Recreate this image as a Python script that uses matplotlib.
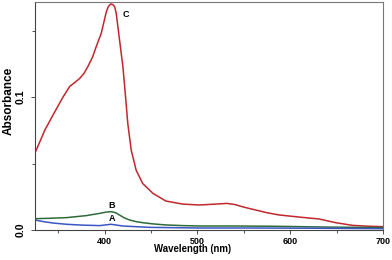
import matplotlib
matplotlib.use("Agg")
from matplotlib import pyplot as plt
from matplotlib.ticker import MultipleLocator

# curve C (red)
wl_c = [325, 330, 335.5, 344.4, 355.2, 362.4, 368, 373.1, 378, 382, 387, 391, 396.4, 401.8, 404,
        406.5, 409, 410.8, 412.5, 414.3, 417, 419.7, 422.6, 425, 428.7, 434, 441, 452, 466, 484,
        502, 520, 532, 540, 550, 559.5, 575, 588, 613, 631, 649, 667, 685, 700]
abs_c = [0.058, 0.066, 0.075, 0.0865, 0.100, 0.108, 0.111, 0.114, 0.118, 0.123, 0.130, 0.138, 0.148, 0.164, 0.168,
         0.170, 0.1695, 0.168, 0.163, 0.153, 0.138, 0.123, 0.100, 0.080, 0.060, 0.045, 0.035, 0.0276, 0.0218, 0.0195,
         0.0188, 0.0195, 0.0200, 0.0192, 0.0172, 0.0156, 0.013, 0.0113, 0.0095, 0.0083, 0.0055, 0.0035, 0.0028, 0.0025]

# curve B (green)
wl_b = [325, 340, 359, 380, 394.6, 401, 407, 412, 416, 421, 427, 434, 441, 452, 466, 484, 502, 540, 583, 640, 700]
abs_b = [0.0085, 0.0088, 0.0093, 0.0108, 0.0125, 0.0134, 0.0138, 0.0130, 0.0113, 0.0092, 0.0075, 0.0063, 0.0055,
         0.0046, 0.0038, 0.0033, 0.003, 0.003, 0.0028, 0.0022, 0.0018]

# curve A (blue)
wl_a = [325, 335, 345, 359, 375, 394.6, 407, 419.7, 448, 502, 560, 635, 700]
abs_a = [0.0075, 0.0062, 0.0052, 0.0043, 0.0037, 0.0033, 0.0043, 0.003, 0.002, 0.0015, 0.0015, 0.0013, 0.001]

plt.rcParams['font.family'] = ['Liberation Sans', 'DejaVu Sans']
plt.rcParams['font.weight'] = 'bold'

fig = plt.figure(figsize=(3.92, 2.6), dpi=100)
ax = fig.add_axes([35/392, 30/260, 348/392, 228/260])

ax.plot(wl_c, abs_c, color='#c0282d', linewidth=1.1)
ax.plot(wl_b, abs_b, color='#2e6b3a', linewidth=1.1)
ax.plot(wl_a, abs_a, color='#3b56c4', linewidth=1.1)

ax.text(419, 0.162, 'C', fontsize=6.5, fontweight='bold', va='center')
ax.text(404, 0.0184, 'B', fontsize=6.5, fontweight='bold', va='center')
ax.text(404, 0.0083, 'A', fontsize=6.5, fontweight='bold', va='center')

ax.set_xlim(325, 700)
ax.set_ylim(0, 0.1715)
ax.xaxis.set_major_locator(MultipleLocator(100))
ax.xaxis.set_minor_locator(MultipleLocator(50))
ax.yaxis.set_minor_locator(MultipleLocator(0.05))
ax.set_yticks([0.0, 0.1])
ax.set_yticklabels(['0.0', '0.1'], rotation=90, va='center')

ax.tick_params(which='both', direction='out', width=0.6, color='#333333')
ax.tick_params(axis='x', labelsize=6.5, pad=2)
ax.tick_params(axis='y', labelsize=7.5, pad=4)
ax.tick_params(which='major', length=3)
ax.tick_params(which='minor', length=2.5)
for s in ax.spines.values():
    s.set_color('#777777')
    s.set_linewidth(0.8)
ax.spines['left'].set_color('#444444')
ax.spines['bottom'].set_color('#444444')

ax.set_xlabel('Wavelength (nm)', fontsize=6.9, fontweight='bold')
ax.xaxis.set_label_coords(0.454, -0.085)
ax.xaxis.label.set_va('center')
ax.set_ylabel('Absorbance', fontsize=8.5, fontweight='bold')
ax.yaxis.set_label_coords(-0.075, 0.566)
ax.yaxis.label.set_va('center')

fig.savefig('out.png', dpi=100)
